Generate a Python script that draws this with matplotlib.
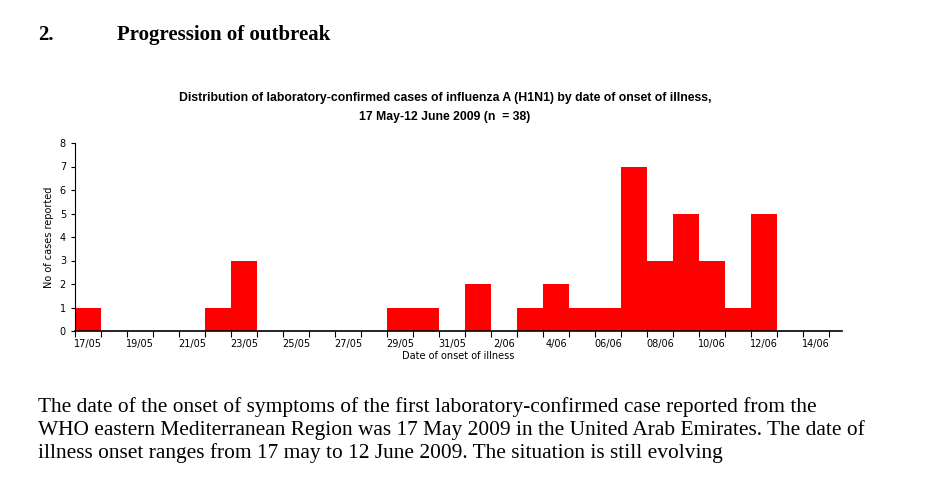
import matplotlib.pyplot as plt
import numpy as np

days = ["17/05", "18/05", "19/05", "20/05", "21/05", "22/05", "23/05", "24/05", "25/05",
        "26/05", "27/05", "28/05", "29/05", "30/05", "31/05", "1/06", "2/06", "3/06",
        "4/06", "5/06", "06/06", "7/06", "08/06", "9/06", "10/06", "11/06", "12/06",
        "13/06", "14/06"]
cases = [1, 0, 0, 0, 0, 1, 3, 0, 0, 0, 0, 0, 1, 1, 0, 2, 0, 1, 2, 1, 1, 7, 3, 5, 3, 1, 5, 0, 0]
label_days = ["17/05", "19/05", "21/05", "23/05", "25/05", "27/05", "29/05", "31/05",
              "2/06", "4/06", "06/06", "08/06", "10/06", "12/06", "14/06"]

fig = plt.figure(figsize=(9.44, 4.88), dpi=100)
serif = "Liberation Serif"
fig.text(38 / 944, 1 - 35 / 488, "2.", fontsize=15, fontweight="bold", family=serif, va="center")
fig.text(117 / 944, 1 - 35 / 488, "Progression of outbreak", fontsize=15, fontweight="bold",
         family=serif, va="center")
fig.text(445 / 944, 1 - 98 / 488, "Distribution of laboratory-confirmed cases of influenza A (H1N1) by date of onset of illness,",
         ha="center", va="center", fontsize=8.8, fontweight="bold", family="Liberation Sans")
fig.text(445 / 944, 1 - 117 / 488, "17 May-12 June 2009 (n  = 38)",
         ha="center", va="center", fontsize=8.8, fontweight="bold", family="Liberation Sans")

ax = fig.add_axes([75 / 944, 1 - 331 / 488, (842 - 75) / 944, (331 - 143) / 488])
x = np.arange(len(days))
ax.bar(x, cases, width=1.0, color="#ff0000", edgecolor="none")
ax.set_xlim(-0.5, len(days))
ax.set_ylim(0, 8)
ax.set_yticks(range(9))
ax.set_xticks(np.arange(len(days) + 1) - 0.5)
ax.set_xticklabels([])
ax.set_xticks([days.index(d) for d in label_days], minor=True)
ax.set_xticklabels(label_days, minor=True)
ax.tick_params(axis="x", which="minor", length=0, labelsize=7, pad=6)
ax.tick_params(axis="x", which="major", length=4, direction="out")
ax.tick_params(axis="y", labelsize=7, length=3)
for s in ["top", "right"]:
    ax.spines[s].set_visible(False)
ax.spines["bottom"].set_linewidth(1.2)
ax.set_xlabel("Date of onset of illness", fontsize=7, labelpad=1)
ax.set_ylabel("No of cases reported", fontsize=7)

para = ("The date of the onset of symptoms of the first laboratory-confirmed case reported from the\n"
        "WHO eastern Mediterranean Region was 17 May 2009 in the United Arab Emirates. The date of\n"
        "illness onset ranges from 17 may to 12 June 2009. The situation is still evolving")
fig.text(38 / 944, 1 - 397 / 488, para, fontsize=15.4, family=serif, va="top", linespacing=1.2)

fig.savefig("out.png", dpi=100)
